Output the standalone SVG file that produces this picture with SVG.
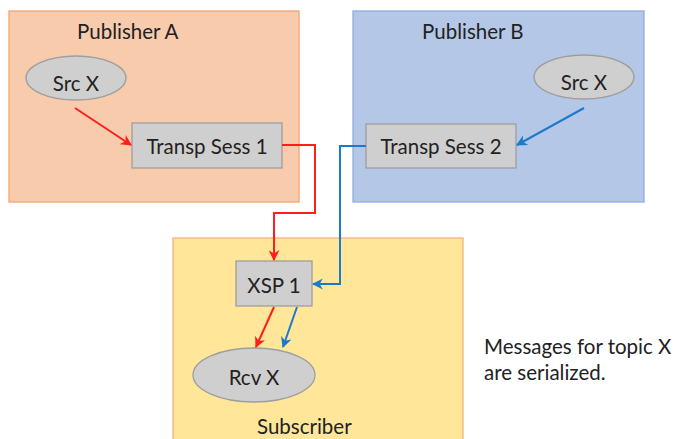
<svg xmlns="http://www.w3.org/2000/svg" width="675" height="439" viewBox="0 0 675 439">
<style>
text{font-family:Lato,"Open Sans","Liberation Sans",sans-serif;fill:#222;}
.lbl{font-size:20.5px;}
.nt{font-size:20.5px;text-anchor:middle;}
.node{fill:#D0CFCF;stroke:#9E9E9E;stroke-width:1.3;}
.r{stroke:#FF1E1E;stroke-width:2;fill:none;}
.b{stroke:#1C7ACB;stroke-width:2;fill:none;}
</style>
<defs>
<marker id="ar" viewBox="0 0 10 10" refX="9" refY="5" markerWidth="11" markerHeight="11" markerUnits="userSpaceOnUse" orient="auto"><path d="M0,0 L10,5 L0,10 L3,5 z" fill="#FF1E1E"/></marker>
<marker id="ab" viewBox="0 0 10 10" refX="9" refY="5" markerWidth="11" markerHeight="11" markerUnits="userSpaceOnUse" orient="auto"><path d="M0,0 L10,5 L0,10 L3,5 z" fill="#1C7ACB"/></marker>
</defs>
<g id="publisherA">
<rect x="9" y="11" width="290" height="191" fill="#F8CBAD" stroke="#F4A56E" stroke-width="1.3"/>
<text class="lbl" x="77" y="39">Publisher A</text>
</g>
<g id="publisherB">
<rect x="353" y="11" width="291" height="191" fill="#B4C7E7" stroke="#8FAEE0" stroke-width="1.3"/>
<text class="lbl" x="422" y="39">Publisher B</text>
</g>
<g id="subscriber">
<rect x="173" y="238" width="290" height="210" fill="#FFE699" stroke="#F4B183" stroke-width="1.3"/>
<text class="lbl" x="257" y="434">Subscriber</text>
</g>
<g id="srcXA">
<ellipse class="node" cx="76" cy="78" rx="50" ry="22"/>
<text class="nt" x="76" y="91">Src X</text>
</g>
<g id="transp1">
<rect class="node" x="132" y="123" width="150" height="45"/>
<text class="nt" x="207" y="154">Transp Sess 1</text>
</g>
<g id="srcXB">
<ellipse class="node" cx="584" cy="77" rx="50" ry="22"/>
<text class="nt" x="584" y="90">Src X</text>
</g>
<g id="transp2">
<rect class="node" x="366" y="124" width="150" height="44"/>
<text class="nt" x="441" y="154">Transp Sess 2</text>
</g>
<g id="xsp1">
<rect class="node" x="236" y="261" width="76" height="45"/>
<text class="nt" x="274" y="293">XSP 1</text>
</g>
<g id="rcvX">
<ellipse class="node" cx="254" cy="375" rx="61" ry="27"/>
<text class="nt" x="254" y="385">Rcv X</text>
</g>
<g id="connectors">
<path class="r" d="M75,108 L131,145" marker-end="url(#ar)"/>
<path class="r" d="M282,145 L315,145 L315,213 L274,213 L274,260" marker-end="url(#ar)"/>
<path class="b" d="M584,108 L517,145" marker-end="url(#ab)"/>
<path class="b" d="M366,146 L340,146 L340,284 L313,284" marker-end="url(#ab)"/>
<path class="r" d="M274,307 L256,347" marker-end="url(#ar)"/>
<path class="b" d="M297,307 L283,347" marker-end="url(#ab)"/>
</g>
<g id="note">
<text class="lbl" x="484" y="354">Messages for topic X</text>
<text class="lbl" x="484" y="380">are serialized.</text>
</g>
</svg>
